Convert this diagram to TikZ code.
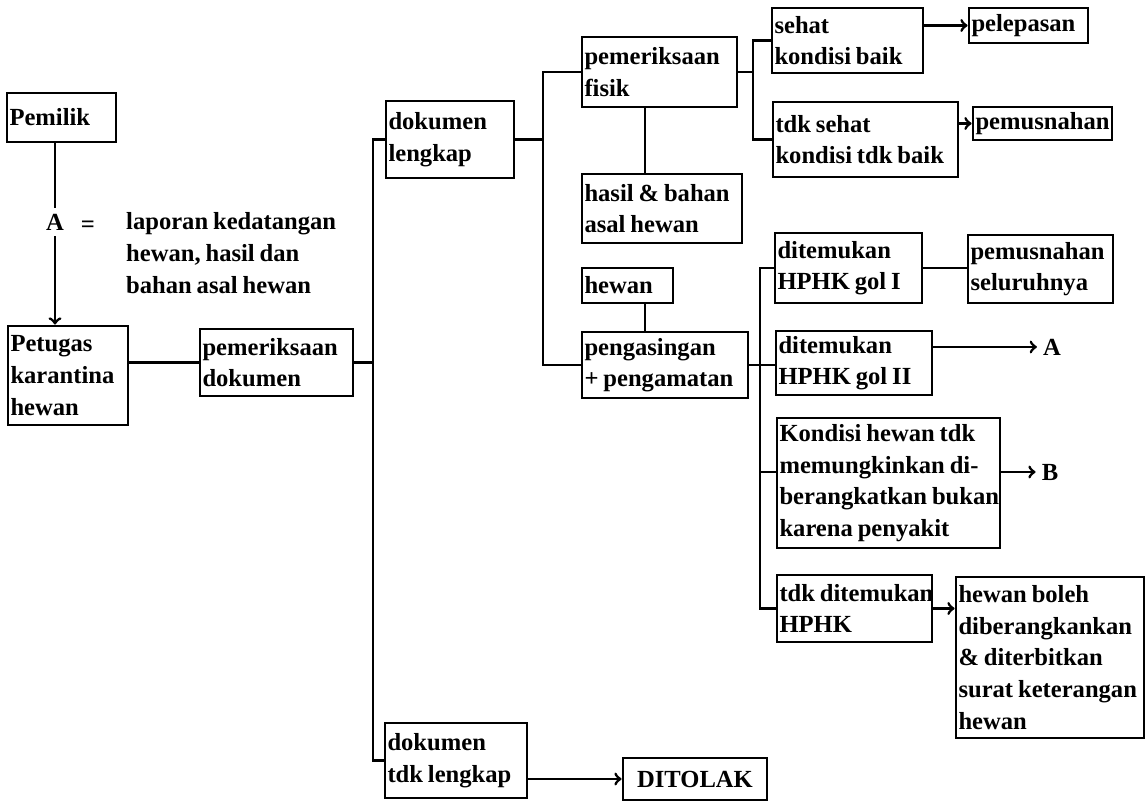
\documentclass[tikz,border=0pt]{standalone}
\usepackage{fontspec}
\setmainfont{Liberation Serif}
\usetikzlibrary{arrows}

\newcommand\hurufkotak{\fontsize{14}{18}\selectfont\bfseries
  \hyphenpenalty=10000\relax\spaceskip=.2em\relax}

\tikzset{
  kotak/.style 2 args={draw,line width=1.6pt,align=flush left,inner xsep=.05cm,inner ysep=0pt,
    text width=#1,minimum height=#2},
  garis/.style={line width=1.6pt},
}

\begin{document}
\begin{tikzpicture}[x=0.02cm,y=-0.02cm,font=\hurufkotak]
\useasboundingbox (0,0) rectangle (1146,803);

\coordinate (batang1) at (373,0);
\coordinate (batang2) at (543,0);
\coordinate (batang3) at (760,0);
\coordinate (batang4) at (753,0);
\coordinate (tiang) at (645,0);

% kolom kiri
\node[kotak={2.08cm}{0.98cm}] (pemilik) at (61.5,117.5) {Pemilik};
\node (hurufA) at (55,222) {A};
\node (samadengan) at (88,227) {=};
\node[anchor=west,align=left] (keterangan) at (120,253)
  {laporan kedatangan\\hewan, hasil dan\\bahan asal hewan};
\node[kotak={2.30cm}{1.98cm}] (petugas) at (68,375.5) {Petugas\\karantina\\hewan};
\node[kotak={2.96cm}{1.34cm}] (periksadok) at (276.5,362.5) {pemeriksaan\\dokumen};

% dokumen
\node[kotak={2.46cm}{1.54cm}] (doklengkap) at (450,139.5) {dokumen\\lengkap};
\node[kotak={2.74cm}{1.50cm}] (doktdk) at (456,760.5) {dokumen\\tdk~lengkap};
\node[kotak={2.78cm}{0.84cm},align=center] (ditolak) at (695,779) {DITOLAK};

% pemeriksaan
\node[kotak={3.00cm}{1.40cm}] (fisik) at (659.5,72) {pemeriksaan\\fisik};
\node[kotak={3.10cm}{1.38cm}] (hasil) at (662,208.5) {hasil~\&~bahan\\asal~hewan};
\node[kotak={1.72cm}{0.70cm}] (hewan) at (627.5,285.5) {hewan};
\node[kotak={3.22cm}{1.32cm}] (asing) at (665,365) {pengasingan\\+~pengamatan};

% hasil fisik
\node[kotak={2.92cm}{1.30cm}] (sehat) at (847.5,40.5) {sehat\\kondisi~baik};
\node[kotak={2.28cm}{0.70cm}] (pelepasan) at (1028.5,25.5) {pelepasan};
\node[kotak={3.60cm}{1.50cm}] (tdksehat) at (865.5,139.5) {tdk~sehat\\kondisi~tdk~baik};
\node[kotak={2.68cm}{0.66cm}] (musnah) at (1042.5,123.5) {pemusnahan};

% hasil pengamatan
\node[kotak={2.84cm}{1.40cm}] (golsatu) at (848.5,268) {ditemukan\\HPHK~gol~I};
\node[kotak={2.80cm}{1.36cm}] (musnahsemua) at (1040.5,269) {pemusnahan\\seluruhnya};
\node[kotak={3.02cm}{1.28cm}] (goldua) at (854,363) {ditemukan\\HPHK~gol~II};
\node (panahA) at (1052,347) {A};
\node[kotak={4.36cm}{2.60cm}] (kondisi) at (888.5,483)
  {Kondisi~hewan~tdk\\memungkinkan~di-\\berangkatkan~bukan\\karena~penyakit};
\node (panahB) at (1050,472) {B};
\node[kotak={3.00cm}{1.34cm}] (tdktemu) at (854.5,608.5) {tdk~ditemukan\\HPHK};
\node[kotak={3.66cm}{3.22cm}] (boleh) at (1050,657.5)
  {hewan~boleh\\diberangkankan\\\&~diterbitkan\\surat~keterangan\\hewan};

\draw[garis] (pemilik.south -| hurufA) -- (hurufA);
\draw[garis,->] (hurufA) -- (hurufA |- petugas.north);
\draw[garis] (petugas.east |- periksadok) -- (periksadok.west);

\draw[garis] (periksadok.east) -- (batang1 |- periksadok.east);
\draw[garis] (doklengkap.west) -| (batang1 |- doktdk.west) -- (doktdk.west);
\draw[garis,->] (doktdk.east |- ditolak) -- (ditolak.west);

\draw[garis] (doklengkap.east) -- (batang2 |- doklengkap.east);
\draw[garis] (fisik.west) -| (batang2 |- asing.west) -- (asing.west);
\draw[garis] (tiang |- fisik.south) -- (tiang |- hasil.north);
\draw[garis] (tiang |- hewan.south) -- (tiang |- asing.north);

\draw[garis] (fisik.east) -- (batang4 |- fisik.east);
\draw[garis] (sehat.west) -| (batang4 |- tdksehat.west) -- (tdksehat.west);
\draw[garis,->] (sehat.east |- pelepasan) -- (pelepasan.west);
\draw[garis,->] (tdksehat.east |- musnah) -- (musnah.west);

\draw[garis] (asing.east) -- (goldua.west |- asing.east);
\draw[garis] (golsatu.west) -| (batang3 |- tdktemu.west) -- (tdktemu.west);
\draw[garis] ([yshift=.22cm]kondisi.west) -- ++(-17,0);
\draw[garis] (golsatu.east) -- (musnahsemua.west |- golsatu.east);
\draw[garis,->] (goldua.east |- panahA) -- (panahA.west);
\draw[garis,->] (kondisi.east |- panahB) -- (panahB.west);
\draw[garis,->] (tdktemu.east) -- (boleh.west |- tdktemu.east);

\end{tikzpicture}
\end{document}
